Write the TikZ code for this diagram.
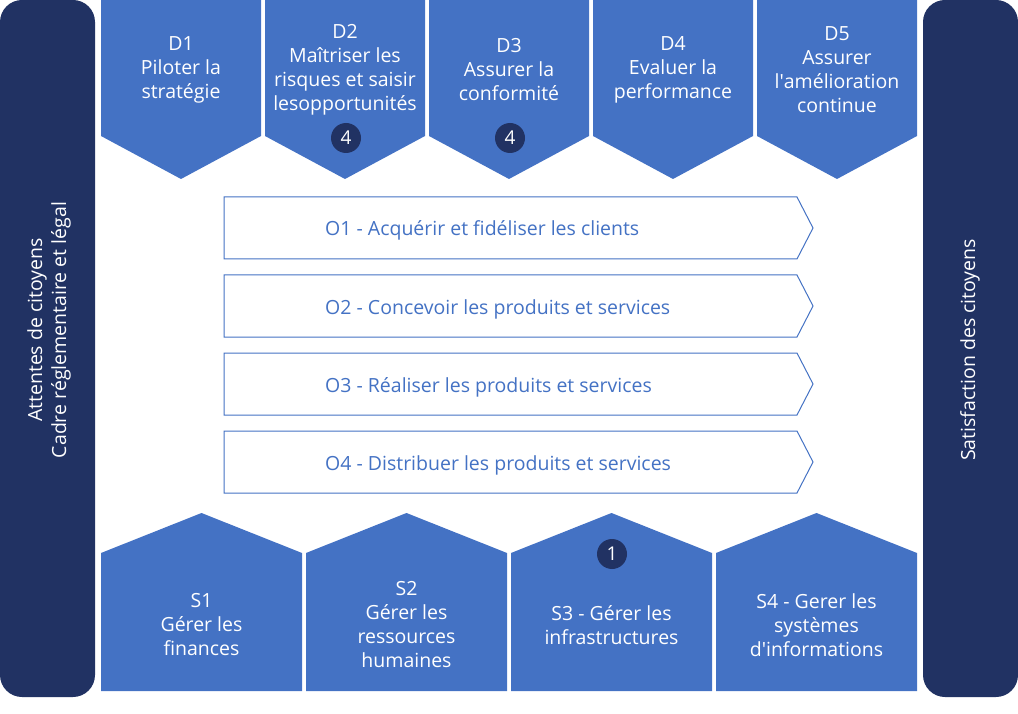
\documentclass[tikz,border=0pt]{standalone}
\usepackage{fontspec}
\setmainfont{Open Sans}
\definecolor{boxblue}{HTML}{4472C4}
\definecolor{navy}{HTML}{213263}
\tikzset{
  lbl/.style={text=white, align=center, inner sep=0pt, font=\fontsize{19.5}{24}\selectfont},
  olbl/.style={text=boxblue, anchor=base west, inner sep=0pt, font=\fontsize{19.5}{24}\selectfont},
  badge/.style={circle, fill=navy, text=white, minimum size=30pt, inner sep=0pt, font=\fontsize{19}{20}\selectfont},
  obox/.style={draw=boxblue, fill=white, line width=1pt}
}

\begin{document}
\begin{tikzpicture}[x=1pt,y=-1pt]
    \useasboundingbox (0,0) rectangle (1018,714);

    % side bars
    \fill[navy, rounded corners=22pt] (0,0) rectangle (95,697);
    \fill[navy, rounded corners=22pt] (923,0) rectangle (1018,697);
    \node[lbl, rotate=90] (inputs) at (49,330) {Attentes de citoyens\\Cadre réglementaire et légal};
    \node[lbl, rotate=90] (outputs) at (970,350) {Satisfaction des citoyens};

    % management processes (top)
    \foreach \i/\txt [evaluate=\i as \xa using 101+164*(\i-1)] in
        {1/{D1\\Piloter la\\stratégie},
         2/{D2\\Maîtriser les\\risques et saisir\\lesopportunités},
         3/{D3\\Assurer la\\conformité},
         4/{D4\\Evaluer la\\performance},
         5/{D5\\Assurer\\l\textquotesingle amélioration\\continue}}{
        \fill[boxblue] (\xa,0) -- (\xa+160,0) -- (\xa+160,136) -- (\xa+80,179) -- (\xa,136) -- cycle;
        \node[lbl] (D\i) at (\xa+80,70) {\txt};
    }

    % operational processes
    \foreach \i/\txt [evaluate=\i as \ya using 197+78*(\i-1)] in
        {1/{O1 - Acquérir et fidéliser les clients},
         2/{O2 - Concevoir les produits et services},
         3/{O3 - Réaliser les produits et services},
         4/{O4 - Distribuer les produits et services}}{
        \draw[obox] (224,\ya) -- (797,\ya) -- (813,\ya+31) -- (797,\ya+62) -- (224,\ya+62) -- cycle;
        \node[olbl] (O\i) at (325,\ya+39) {\txt};
    }

    % support processes (bottom)
    \foreach \i/\txt [evaluate=\i as \xa using 101+205*(\i-1)] in
        {1/{S1\\Gérer les\\finances},
         2/{S2\\Gérer les\\ressources\\humaines},
         3/{S3 - Gérer les\\infrastructures},
         4/{S4 - Gerer les\\systèmes\\d\textquotesingle informations}}{
        \fill[boxblue] (\xa,691) -- (\xa,553) -- (\xa+100.5,513) -- (\xa+201,553) -- (\xa+201,691) -- cycle;
        \node[lbl] (S\i) at (\xa+100.5,625) {\txt};
    }

    % counters
    \node[badge] (nD2) at (346,138) {4};
    \node[badge] (nD3) at (510,138) {4};
    \node[badge] (nS3) at (612,554) {1};
\end{tikzpicture}
\end{document}
